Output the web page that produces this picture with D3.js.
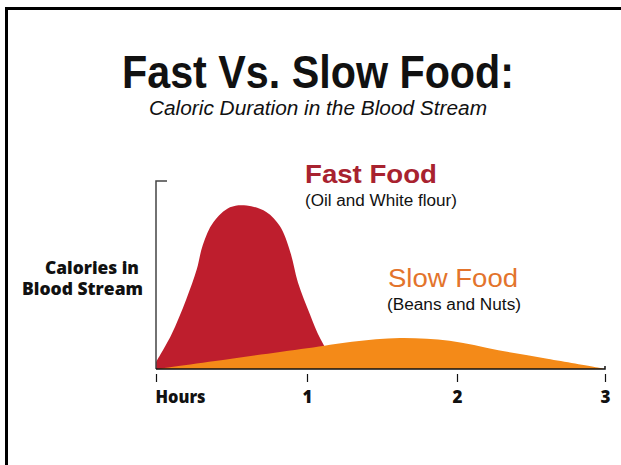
<!DOCTYPE html>
<html><head><meta charset="utf-8">
<script src="https://cdn.jsdelivr.net/npm/d3@7"></script>
<style>html,body{margin:0;padding:0;background:#fff;}svg{display:block;}</style>
</head><body>
<script>
const hourTicks = [0, 1, 2, 3];
const hourLabels = ["Hours", "1", "2", "3"];
const fastHours = [0, 0.1, 0.2, 0.27, 0.31, 0.38, 0.49, 0.6, 0.73, 0.82, 0.89, 0.94, 1.02, 1.09, 1.2, 1.3];
const fastValues = [3.7, 18, 37, 53, 66, 78, 86, 87, 83.5, 76, 62, 46, 29, 16, 3, 0];
const slowHours = [0, 0.5, 1.0, 1.3, 1.62, 1.95, 2.28, 2.61, 2.95, 3];
const slowValues = [0, 5.5, 11, 14.5, 16.5, 15, 10, 5.5, 0.8, 0];

const W = 621, H = 465;
const svg = d3.select("body").append("svg").attr("width", W).attr("height", H);

// frame
svg.append("rect").attr("x", 6.5).attr("y", 8.5).attr("width", 700).attr("height", 600)
  .attr("fill", "none").attr("stroke", "#000").attr("stroke-width", 3);

const x = d3.scaleLinear().domain([0, 1, 2, 3]).range([156, 307, 457, 605]);
const y = d3.scaleLinear().domain([0, 100]).range([369, 181]);

const area = d3.area().x(d => x(d[0])).y0(y(0)).y1(d => y(d[1])).curve(d3.curveCatmullRom);

svg.append("path").datum(d3.zip(fastHours, fastValues)).attr("d", area).attr("fill", "#BE1E2D");
svg.append("path").datum(d3.zip(slowHours, slowValues)).attr("d", area).attr("fill", "#F48A18");

// y axis
svg.append("path").attr("d", `M${x(0)},${y(0)}V${y(100)}H${x(0)+11}`)
  .attr("fill", "none").attr("stroke", "#444").attr("stroke-width", 1.5);
// x baseline
svg.append("path").attr("d", `M${x(0)},${y(0)}H${x(3)}V${y(0)-3}`)
  .attr("fill", "none").attr("stroke", "#111").attr("stroke-width", 1.5);

const labelFont = "'Open Sans', 'Noto Sans', sans-serif";
const xAxis = d3.axisBottom(x).tickValues(hourTicks).tickSize(8).tickPadding(9)
  .tickFormat((d, i) => hourLabels[i]);
const gx = svg.append("g").attr("transform", `translate(0,${y(0)+5})`).call(xAxis);
gx.select(".domain").remove();
gx.selectAll(".tick line").attr("stroke", "#111").attr("stroke-width", 1.2);
gx.selectAll(".tick text").attr("font-family", labelFont)
  .attr("font-weight", 800).attr("font-size", 17).attr("fill", "#111")
  .attr("text-anchor", (d, i) => i === 0 ? "start" : "middle")
  .attr("x", (d, i) => i === 0 ? -1 : 0)
  .each(function(d, i) { if (i === 0) d3.select(this).attr("textLength", 50).attr("lengthAdjust", "spacingAndGlyphs"); });

// titles
svg.append("text").attr("x", 318).attr("y", 88).attr("text-anchor", "middle")
  .attr("font-family", "'Liberation Sans', Arial, sans-serif").attr("font-weight", "bold")
  .attr("font-size", 47).attr("fill", "#111")
  .attr("textLength", 392).attr("lengthAdjust", "spacingAndGlyphs")
  .text("Fast Vs. Slow Food:");
svg.append("text").attr("x", 318).attr("y", 115).attr("text-anchor", "middle")
  .attr("font-family", "'Liberation Sans', Arial, sans-serif").attr("font-style", "italic")
  .attr("font-size", 20).attr("fill", "#111")
  .attr("textLength", 338).attr("lengthAdjust", "spacingAndGlyphs")
  .text("Caloric Duration in the Blood Stream");

// series labels
svg.append("text").attr("x", 305).attr("y", 183)
  .attr("font-family", "'Liberation Sans', Arial, sans-serif").attr("font-weight", "bold")
  .attr("font-size", 26).attr("fill", "#A8222F")
  .attr("textLength", 132).attr("lengthAdjust", "spacingAndGlyphs").text("Fast Food");
svg.append("text").attr("x", 305).attr("y", 206)
  .attr("font-family", "'Liberation Sans', Arial, sans-serif")
  .attr("font-size", 16).attr("fill", "#111")
  .attr("textLength", 152).attr("lengthAdjust", "spacingAndGlyphs").text("(Oil and White flour)");
svg.append("text").attr("x", 388).attr("y", 287)
  .attr("font-family", "'Liberation Sans', Arial, sans-serif")
  .attr("font-size", 26).attr("fill", "#E3742C")
  .attr("textLength", 130).attr("lengthAdjust", "spacingAndGlyphs").text("Slow Food");
svg.append("text").attr("x", 387).attr("y", 310)
  .attr("font-family", "'Liberation Sans', Arial, sans-serif")
  .attr("font-size", 16).attr("fill", "#111")
  .attr("textLength", 134).attr("lengthAdjust", "spacingAndGlyphs").text("(Beans and Nuts)");

// y label
const yl = svg.append("text").attr("text-anchor", "end")
  .attr("font-family", labelFont).attr("font-weight", 800)
  .attr("font-size", 17).attr("fill", "#111");
yl.append("tspan").attr("x", 139).attr("y", 274).attr("textLength", 94).attr("lengthAdjust", "spacingAndGlyphs").text("Calories in");
yl.append("tspan").attr("x", 143).attr("y", 295).attr("textLength", 121).attr("lengthAdjust", "spacingAndGlyphs").text("Blood Stream");
</script>
</body></html>
